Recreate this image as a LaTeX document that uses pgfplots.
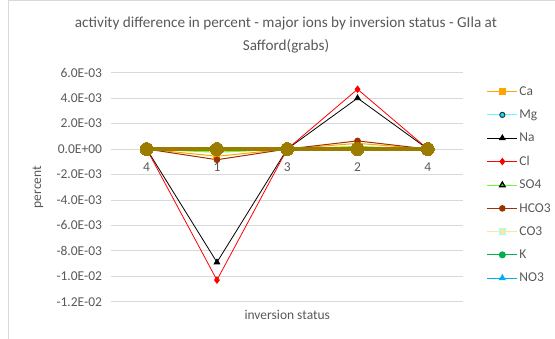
\documentclass[border=0pt]{standalone}
\usepackage{fontspec}
\setmainfont{Carlito}
\usepackage{pgfplots}
\usepackage{pgfplotstable}
\pgfplotsset{compat=1.18}
\definecolor{txt}{HTML}{595959}
\definecolor{gridc}{HTML}{D9D9D9}
\definecolor{caC}{HTML}{FFA500}
\definecolor{mgL}{HTML}{66FFFF}
\definecolor{mgM}{HTML}{00E5FF}
\definecolor{so4L}{HTML}{66FF33}
\definecolor{so4M}{HTML}{33CC33}
\definecolor{hco3C}{HTML}{993300}
\definecolor{co3L}{HTML}{FFE699}
\definecolor{co3E}{HTML}{99FFFF}
\definecolor{kC}{HTML}{00B050}
\definecolor{no3C}{HTML}{00B0F0}
\definecolor{oliveC}{HTML}{9C7C00}
\pgfplotsset{leg/.style={legend image code/.code={\draw[mark repeat=2,mark phase=2,##1] plot coordinates {(0pt,0pt) (15pt,0pt) (30pt,0pt)};}}}
\pgfplotstableread{
x Ca Mg Na Cl SO4 HCO3 CO3 K NO3 F
0 0 0 0 0 0 0 0 0 0 0
1 -0.00057 -0.00005 -0.0089 -0.0103 -0.00025 -0.00084 0 -0.0001 0 0
2 0 0 0 0 0 0 0 0 0 0
3 0.00045 0.00002 0.0040 0.0047 0.0002 0.00064 0 0.00005 0 0
4 0 0 0 0 0 0 0 0 0 0
}\datatable
\begin{document}
\begin{tikzpicture}
\useasboundingbox (-111.5pt,-36.3pt) rectangle (443.5pt,301.7pt);
\draw[gridc, line width=0.8pt] (-103.5pt,-40pt) -- (-103.5pt,300.9pt) -- (450pt,300.9pt);
\begin{axis}[
  at={(0,0)}, anchor=south west,
  scale only axis, width=351.5pt, height=229pt,
  xmin=-0.5, xmax=4.5, ymin=-0.012, ymax=0.006,
  axis x line=middle, axis y line=left,
  x axis line style={draw=gridc, line width=0.8pt, -},
  y axis line style={draw=none},
  major tick length=0pt,
  scaled y ticks=false,
  xtick={0,1,2,3,4}, xticklabels={4,1,3,2,4},
  ytick={-0.012,-0.010,-0.008,-0.006,-0.004,-0.002,0,0.002,0.004,0.006},
  yticklabels={-1.2E-02,-1.0E-02,-8.0E-03,-6.0E-03,-4.0E-03,-2.0E-03,0.0E+00,2.0E-03,4.0E-03,6.0E-03},
  ymajorgrids, grid style={draw=gridc, line width=0.8pt},
  tick label style={font=\fontsize{13.5}{15}\selectfont, text=txt},
  xticklabel style={yshift=-10pt},
  yticklabel style={xshift=-6pt},
  clip=false,
  legend style={at={(1.067,0.947)}, anchor=north west, draw=none, fill=none,
    font=\fontsize{13.5}{15}\selectfont, text=txt, row sep=10pt, inner sep=0pt,
    nodes={inner sep=1.5pt}},
  legend cell align=left,
]
\addplot[caC, line width=1pt, mark=square*, mark size=3pt, mark options={fill=caC, draw=caC}, leg] table[x=x,y=Ca]{\datatable};
\addlegendentry{Ca}
\addplot[mgL, line width=1pt, mark=*, mark size=2.6pt, mark options={fill=mgM, draw=black!80}, leg] table[x=x,y=Mg]{\datatable};
\addlegendentry{Mg}
\addplot[black, line width=0.8pt, mark=triangle*, mark size=3.2pt, mark options={fill=black}, leg] table[x=x,y=Na]{\datatable};
\addlegendentry{Na}
\addplot[red, line width=0.8pt, mark=diamond*, mark size=3.2pt, mark options={fill=red}, leg] table[x=x,y=Cl]{\datatable};
\addlegendentry{Cl}
\addplot[so4L, line width=1.2pt, mark=triangle*, mark size=3.2pt, mark options={fill=so4M, draw=black}, leg] table[x=x,y=SO4]{\datatable};
\addlegendentry{SO4}
\addplot[hco3C, line width=1pt, mark=*, mark size=2.8pt, mark options={fill=hco3C}, leg] table[x=x,y=HCO3]{\datatable};
\addlegendentry{HCO3}
\addplot[co3L, line width=1.2pt, mark=square*, mark size=3pt, mark options={fill=co3L, draw=co3E, line width=0.8pt}, leg] table[x=x,y=CO3]{\datatable};
\addlegendentry{CO3}
\addplot[kC, line width=1pt, mark=*, mark size=3pt, mark options={fill=kC}, leg] table[x=x,y=K]{\datatable};
\addlegendentry{K}
\addplot[no3C, line width=1pt, mark=triangle*, mark size=3.2pt, mark options={fill=no3C}, leg] table[x=x,y=NO3]{\datatable};
\addlegendentry{NO3}
\addplot[oliveC, line width=3.5pt, mark=*, mark size=6.5pt, mark options={fill=oliveC, line width=0pt}, forget plot] table[x=x,y=F]{\datatable};
\end{axis}
\node[text=txt, font=\fontsize{13.5}{15}\selectfont] at (175.75pt,-13.5pt) {inversion status};
\node[text=txt, font=\fontsize{13.5}{15}\selectfont, rotate=90] at (-73.5pt,114.5pt) {percent};
\node[text=txt, font=\fontsize{15.2}{23}\selectfont, align=center] at (174.5pt,267pt) {activity difference in percent - major ions by inversion status - GIla at\\Safford(grabs)};
\end{tikzpicture}
\end{document}
